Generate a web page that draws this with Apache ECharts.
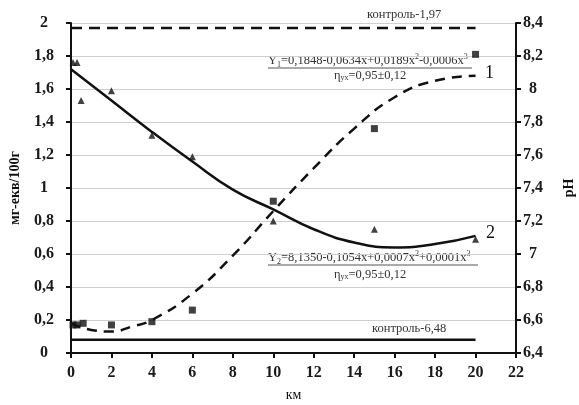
<!DOCTYPE html>
<html><head><meta charset="utf-8">
<script src="https://cdn.jsdelivr.net/npm/echarts@6/dist/echarts.min.js"></script>
<style>html,body{margin:0;padding:0;background:#fff}#c{width:579px;height:405px}</style>
</head><body><div id="c"></div>
<script>
// Observed points
const squaresX = [0.1, 0.3, 0.6, 2, 4, 6, 10, 15, 20];
const squaresY = [0.17, 0.17, 0.18, 0.17, 0.19, 0.26, 0.92, 1.36, 1.81];       // мг-екв/100г
const trianglesX = [0.1, 0.3, 0.5, 2, 4, 6, 10, 15, 20];
const trianglesY = [8.16, 8.16, 7.93, 7.99, 7.72, 7.59, 7.2, 7.15, 7.09];      // pH
// Trend curves
const curve1X = [0, 1, 2, 3, 4, 6, 8, 10, 12, 14, 16, 18, 20];
const curve1Y = [0.18, 0.14, 0.13, 0.16, 0.2, 0.36, 0.59, 0.86, 1.12, 1.36, 1.55, 1.65, 1.68];
const curve2X = [0, 2, 4, 6, 8, 10, 12, 14, 16, 18, 20];
const curve2Y = [8.12, 7.93, 7.74, 7.56, 7.39, 7.27, 7.15, 7.07, 7.04, 7.06, 7.11];
// Controls
const control1 = 1.97, control2 = 6.48, controlXs = [0, 20];
const xTicks = {min: 0, max: 22, interval: 2};

const zip = (xs, ys) => xs.map((x, i) => [x, ys[i]]);
const fmt = v => String(+v.toFixed(1)).replace('.', ',');
const F = 'Liberation Serif';
const axisTxt = {color: '#1a1a1a', fontFamily: F, fontSize: 16, fontWeight: 'bold'};
const annFont = '12.5px "Liberation Serif"';
const annColor = '#333';

const richEq = {
  n: {fontFamily: F, fontSize: 12.5, fill: annColor, verticalAlign: 'bottom'},
  s: {fontFamily: F, fontSize: 8, fill: annColor, padding: [0, 0, -2, 0], verticalAlign: 'bottom'},
  p: {fontFamily: F, fontSize: 8, fill: annColor, padding: [0, 0, 6, 0], verticalAlign: 'bottom'}
};
const richEta = {
  n: {fontFamily: F, fontSize: 12.5, fill: annColor},
  s: {fontFamily: F, fontSize: 8, fill: annColor, padding: [5, 0, 0, 0]}
};

const chart = echarts.init(document.getElementById('c'));
chart.setOption({
  animation: false,
  backgroundColor: '#fff',
  grid: {left: 71, right: 63, top: 23, bottom: 52, containLabel: false, outerBoundsMode: 'none'},
  xAxis: {type: 'value', min: xTicks.min, max: xTicks.max, interval: xTicks.interval,
    axisLine: {onZero: false, lineStyle: {color: '#111', width: 2}},
    axisTick: {show: true, length: 5, lineStyle: {color: '#111', width: 2}},
    axisLabel: Object.assign({margin: 12, formatter: fmt}, axisTxt),
    splitLine: {show: false},
    name: 'км', nameLocation: 'middle', nameGap: 35,
    nameTextStyle: {color: '#111', fontFamily: F, fontSize: 14}},
  yAxis: [
    {type: 'value', min: 0, max: 2, interval: 0.2,
      axisLine: {show: true, lineStyle: {color: '#111', width: 2}},
      axisTick: {show: true, length: 5, lineStyle: {color: '#111', width: 2}},
      axisLabel: Object.assign({margin: 27, align: 'center', formatter: fmt}, axisTxt),
      splitLine: {show: true, lineStyle: {color: '#cfcfcf', width: 1}},
      name: 'мг-екв/100г', nameLocation: 'middle', nameGap: 49, nameRotate: 90,
      nameTextStyle: {color: '#111', fontFamily: F, fontSize: 14, fontWeight: 'bold'}},
    {type: 'value', min: 6.4, max: 8.4, interval: 0.2, position: 'right',
      axisLine: {show: true, lineStyle: {color: '#111', width: 2}},
      axisTick: {show: true, length: 5, lineStyle: {color: '#111', width: 2}},
      axisLabel: Object.assign({margin: 17, align: 'center', formatter: fmt}, axisTxt),
      splitLine: {show: false},
      name: 'pH', nameLocation: 'middle', nameGap: 46, nameRotate: 90,
      nameTextStyle: {color: '#111', fontFamily: F, fontSize: 14, fontWeight: 'bold'}}
  ],
  series: [
    {type: 'line', yAxisIndex: 0, data: zip(controlXs, [control1, control1]), symbol: 'none',
      lineStyle: {color: '#111', width: 2.5, type: [11, 7]}},
    {type: 'line', yAxisIndex: 1, data: zip(controlXs, [control2, control2]), symbol: 'none',
      lineStyle: {color: '#111', width: 2.5}},
    {type: 'line', yAxisIndex: 0, data: zip(curve1X, curve1Y), symbol: 'none', smooth: 0.5,
      lineStyle: {color: '#111', width: 2.5, type: [10, 7]}},
    {type: 'line', yAxisIndex: 1, data: zip(curve2X, curve2Y), symbol: 'none', smooth: 0.5,
      lineStyle: {color: '#111', width: 2.5}},
    {type: 'scatter', yAxisIndex: 0, data: zip(squaresX, squaresY), symbol: 'rect', symbolSize: 7,
      itemStyle: {color: '#111'}},
    {type: 'scatter', yAxisIndex: 1, data: zip(trianglesX, trianglesY), symbol: 'triangle', symbolSize: 7,
      itemStyle: {color: '#111'}}
  ],
  graphic: [
    {type: 'text', left: 367, top: 8, style: {text: 'контроль-1,97', font: annFont, fill: annColor}},
    {type: 'text', left: 268, top: 53, style: {
      text: '{n|Y}{s|1}{n|=0,1848-0,0634x+0,0189x}{p|2}{n|-0,0006x}{p|3}', rich: richEq}},
    {type: 'line', shape: {x1: 268, y1: 68, x2: 472, y2: 68}, style: {stroke: '#555', lineWidth: 1}},
    {type: 'text', left: 334, top: 69, style: {text: '{n|η}{s|yx}{n|=0,95±0,12}', rich: richEta}},
    {type: 'text', left: 485, top: 64, style: {text: '1', font: '18px "Liberation Serif"', fill: '#111'}},
    {type: 'text', left: 486, top: 224, style: {text: '2', font: '18px "Liberation Serif"', fill: '#111'}},
    {type: 'text', left: 268, top: 250, style: {
      text: '{n|Y}{s|2}{n|=8,1350-0,1054x+0,0007x}{p|2}{n|+0,0001x}{p|3}', rich: richEq}},
    {type: 'line', shape: {x1: 268, y1: 265, x2: 478, y2: 265}, style: {stroke: '#555', lineWidth: 1}},
    {type: 'text', left: 334, top: 268, style: {text: '{n|η}{s|yx}{n|=0,95±0,12}', rich: richEta}},
    {type: 'text', left: 372, top: 322, style: {text: 'контроль-6,48', font: annFont, fill: annColor}}
  ]
});
</script></body></html>
